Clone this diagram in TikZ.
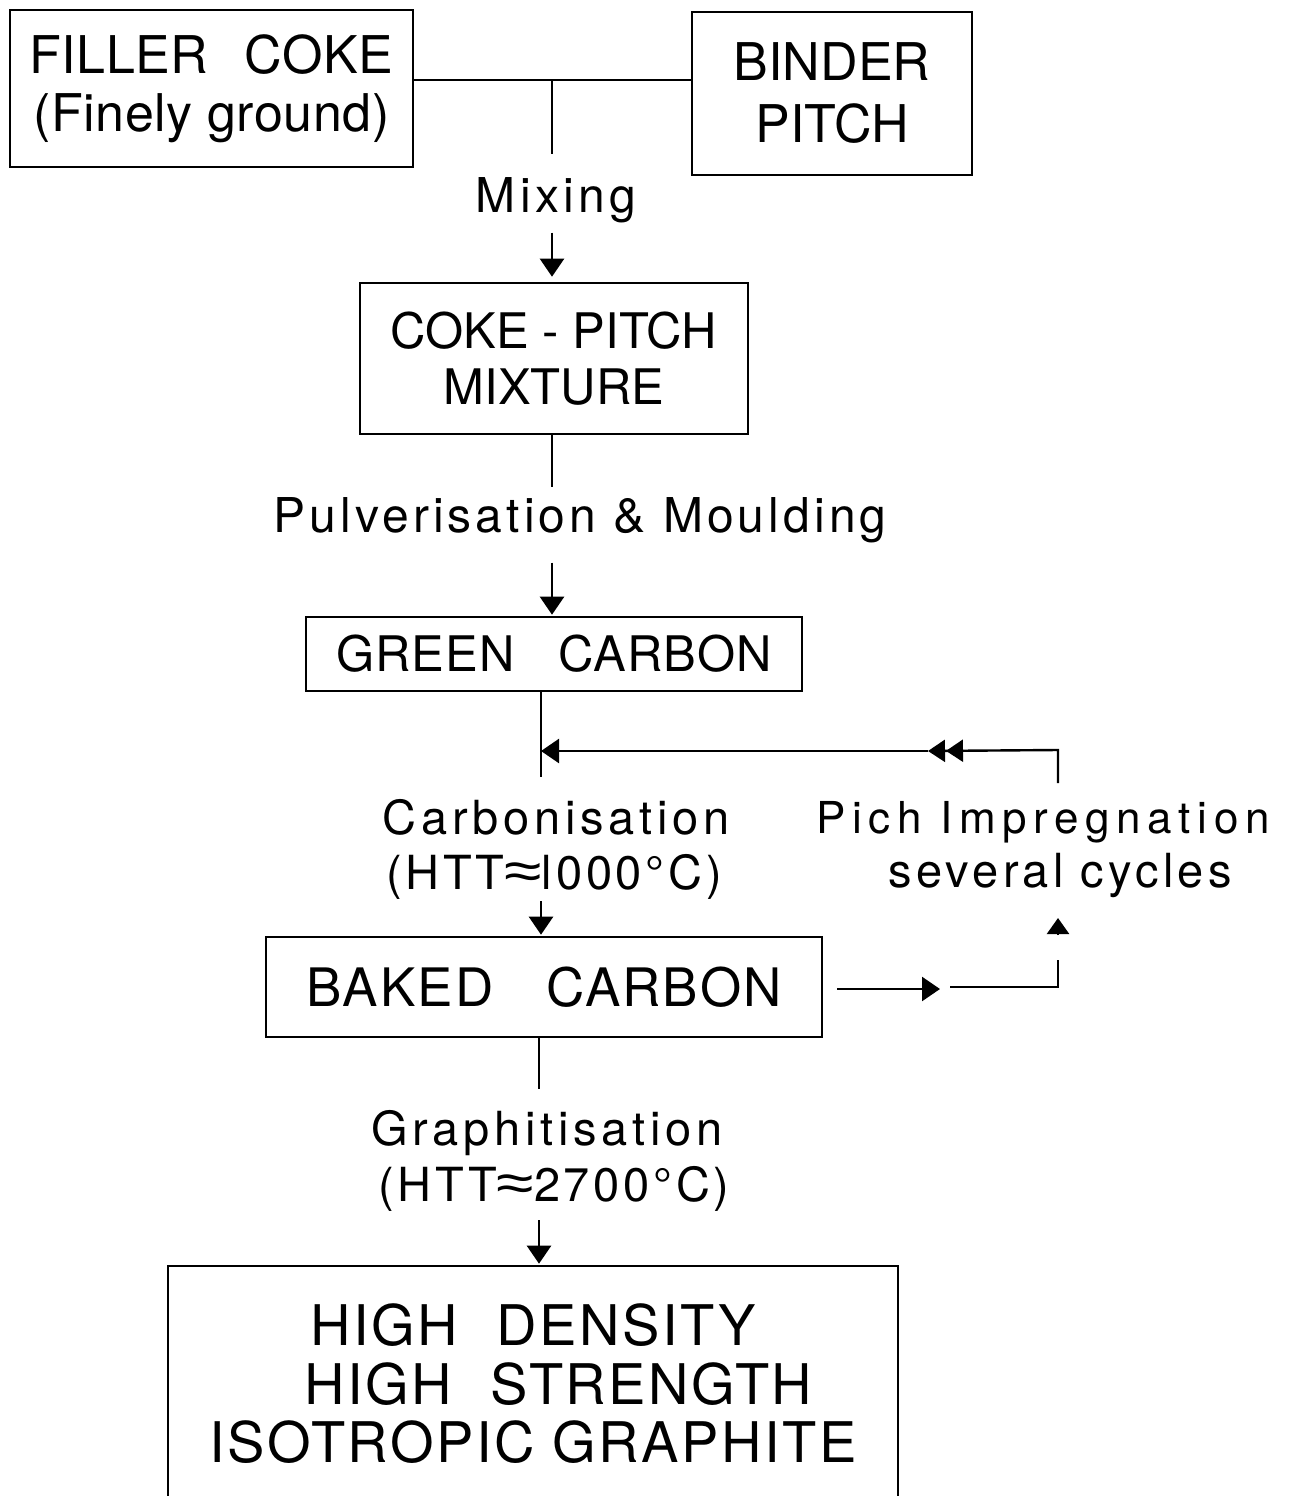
\documentclass[tikz,border=0pt]{standalone}
\usepackage{fontspec}
\usepackage{graphicx}
\setmainfont{TeX Gyre Heros}
\newfontfamily\symfont{Liberation Sans}
\usetikzlibrary{arrows.meta}
\newcommand{\lsfont}[3]{\fontsize{#1}{#2}\selectfont\addfontfeatures{LetterSpace=#3}}
\newcommand{\apx}{\scalebox{1.45}[1.15]{\symfont ≈}}
\begin{document}
\begin{tikzpicture}[x=1pt,y=-1pt,
  box/.style={draw, line width=2.6pt, inner sep=0pt, align=center},
  lbl/.style={inner sep=0pt, anchor=base},
  ln/.style={line width=2.4pt},
  arr/.style={ln, -{Triangle[length=18pt,width=24pt]}}]
\useasboundingbox (0,0) rectangle (1290,1496);
% boxes
\node[box, minimum width=403pt, minimum height=157pt, font=\lsfont{52}{58}{1}] (filler) at (211.5,88.5) {FILLER\hspace{0.7em}COKE\\(Finely ground)};
\node[box, minimum width=280pt, minimum height=163pt, font=\fontsize{52}{62}\selectfont] (binder) at (832,93.5) {BINDER\\PITCH};
\node[box, minimum width=388pt, minimum height=151pt, font=\fontsize{49}{56}\selectfont] (coke) at (554,358.5) {COKE - PITCH\\MIXTURE};
\node[box, minimum width=496pt, minimum height=74pt, font=\lsfont{49}{56}{2}] (green) at (554,654) {GREEN\hspace{0.9em}CARBON};
\node[box, minimum width=556pt, minimum height=100pt, font=\lsfont{53}{60}{4}] (baked) at (544,987) {BAKED\hspace{1em}CARBON};
\node[box, minimum width=730pt, minimum height=236pt, font=\lsfont{56}{58.5}{4.5}] (final) at (533,1384) {HIGH\hspace{0.7em}DENSITY\\ \hspace*{0.9em}HIGH\hspace{0.7em}STRENGTH\\ISOTROPIC GRAPHITE};
% labels
\node[lbl, font=\lsfont{48}{48}{9}] (mix) at (556,212) {Mixing};
\node[lbl, font=\lsfont{48}{48}{8.5}] (pulv) at (580,532) {Pulverisation \& Moulding};
\node[lbl, font=\lsfont{47}{47}{10}] (carb) at (556,834) {Carbonisation};
\node[lbl, font=\lsfont{47}{47}{8}] (htt1) at (554,889) {(HTT\apx l000°C)};
\node[lbl, font=\lsfont{44}{44}{15}] (pich) at (1043,833) {Pich Impregnation};
\node[lbl, font=\lsfont{47}{47}{9}] (sev) at (1060,887) {several cycles};
\node[lbl, font=\lsfont{47}{47}{10}] (graph) at (547,1145) {Graphitisation};
\node[lbl, font=\lsfont{47}{47}{8}] (htt2) at (554,1201) {(HTT\apx 2700°C)};
% column coordinates
\coordinate (j) at (552,80);
\coordinate (k) at (541,0);
\coordinate (m) at (539,0);
% top junction
\draw[ln] (filler.east |- j) -- (binder.west |- j);
\draw[ln, shorten >=23pt] (j) -- (j |- mix.north);
\draw[arr, shorten <=10pt, shorten >=5pt] (j |- mix.south) -- (j |- coke.north);
% coke -> green
\draw[ln, shorten >=10pt] (j |- coke.south) -- (j |- pulv.north);
\draw[arr, shorten <=20pt, shorten >=1pt] (j |- pulv.south) -- (j |- green.north);
% green -> baked
\draw[ln, shorten >=22pt] (k |- green.south) -- (k |- carb.north);
\draw[arr, shorten <=2pt, shorten >=1pt] (k |- htt1.south) -- (k |- baked.north);
% feedback loop
\coordinate (fr) at (1058,783);
\coordinate (ft) at (1058,750);
\coordinate (fm) at (928,751);
\draw[ln, -{Triangle[length=17pt,width=22pt,sep=1pt]Triangle[length=17pt,width=22pt]}] (fr) -- (ft) -- (fm);
\draw[arr] (fm) -- (k |- fm);
% baked -> impregnation
\coordinate (ba) at (940,989);
\draw[arr, shorten <=14pt] (baked.east |- ba) -- (ba);
\coordinate (bb) at (950,987);
\coordinate (bc) at (1058,987);
\coordinate (bd) at (1058,960);
\draw[ln] (bb) -- (bc) -- (bd);
\coordinate (be) at (1058,935);
\coordinate (bf) at (1058,918);
\draw[ln, -{Triangle[length=16pt,width=22pt]}] (be) -- (bf);
% baked -> final
\draw[ln, shorten >=21pt] (m |- baked.south) -- (m |- graph.north);
\draw[arr, shorten <=9pt, shorten >=1pt] (m |- htt2.south) -- (m |- final.north);
\end{tikzpicture}
\end{document}
